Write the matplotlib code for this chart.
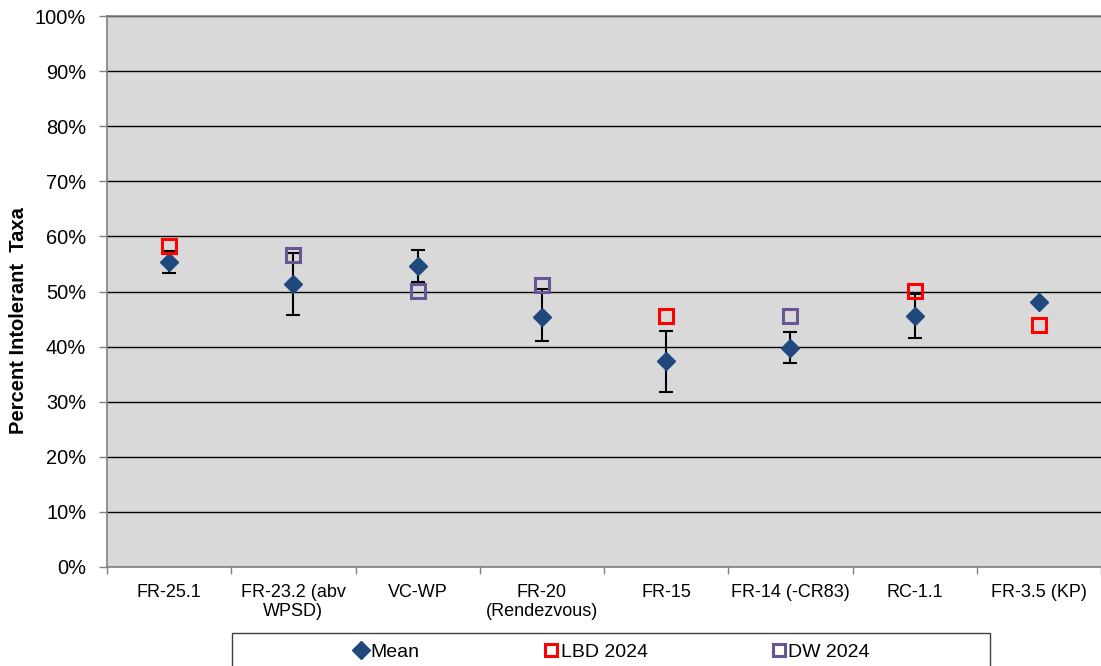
import numpy as np
import matplotlib
matplotlib.use("Agg")
import matplotlib.pyplot as plt
from matplotlib.lines import Line2D
from matplotlib.patches import Rectangle
from matplotlib.ticker import FixedLocator, PercentFormatter

plt.rcParams['font.family'] = ['Liberation Sans', 'DejaVu Sans']

sites = ["FR-25.1", "FR-23.2 (abv\nWPSD)", "VC-WP", "FR-20\n(Rendezvous)",
         "FR-15", "FR-14 (-CR83)", "RC-1.1", "FR-3.5 (KP)"]
mean = [55.3, 51.4, 54.6, 45.4, 37.3, 39.8, 45.6, 48.1]
range_low = [53.3, 45.8, 51.7, 41.0, 31.8, 37.0, 41.6, np.nan]
range_high = [57.4, 56.9, 57.6, 50.5, 42.8, 42.6, 49.5, np.nan]
lbd_2024 = [58.3, np.nan, np.nan, np.nan, 45.6, np.nan, 50.1, 43.9]
dw_2024 = [np.nan, 56.6, 50.1, 51.1, np.nan, 45.6, np.nan, np.nan]

MEAN_C = '#1F497D'
LBD_C = '#FF0000'
DW_C = '#6A5594'

fig = plt.figure(figsize=(11.01, 6.66), dpi=100)
ax = fig.add_axes([107 / 1101, 99 / 666, 994 / 1101, 551 / 666])
ax.set_facecolor('#D9D9D9')

x = np.arange(len(sites)) + 0.5
mean_a = np.array(mean)
lo = np.array(range_low)
hi = np.array(range_high)
has_err = ~np.isnan(lo)

ax.errorbar(x[has_err], mean_a[has_err],
            yerr=[mean_a[has_err] - lo[has_err], hi[has_err] - mean_a[has_err]],
            fmt='none', ecolor='black', elinewidth=1.5, capsize=4.7, capthick=1.5,
            zorder=3)
ax.plot(x, mean, linestyle='none', marker='D', markersize=9.5, color=MEAN_C,
        zorder=4)
ax.plot(x, lbd_2024, linestyle='none', marker='s', markersize=10,
        markerfacecolor='none', markeredgecolor=LBD_C, markeredgewidth=2.2,
        zorder=5)
ax.plot(x, dw_2024, linestyle='none', marker='s', markersize=10,
        markerfacecolor='none', markeredgecolor=DW_C, markeredgewidth=2.2,
        zorder=5)

ax.set_xlim(0, len(sites))
ax.set_ylim(0, 100)
ax.yaxis.set_major_locator(FixedLocator(np.arange(0, 101, 10)))
ax.yaxis.set_major_formatter(PercentFormatter(decimals=0))
ax.yaxis.grid(True, color='black', linewidth=1)
ax.set_axisbelow(True)

ax.set_xticks(np.arange(len(sites) + 1))
ax.set_xticklabels([])
ax.set_xticks(x, minor=True)
ax.set_xticklabels(sites, minor=True, fontsize=13, linespacing=1.15)
ax.tick_params(axis='x', which='minor', length=0, pad=12)
ax.tick_params(axis='x', which='major', length=5, color='#808080', width=1)
ax.tick_params(axis='y', length=6, color='#808080', width=1, labelsize=14.4,
               pad=9)

for side in ('left', 'bottom', 'top'):
    ax.spines[side].set_color('#808080')
    ax.spines[side].set_linewidth(1.2)
ax.spines['right'].set_visible(False)

fig.text(19 / 1101, 1 - 321 / 666, 'Percent Intolerant  Taxa', rotation=90,
         ha='center', va='center', fontsize=14.5, fontweight='bold')

# legend frame runs off the bottom edge of the figure
fig.add_artist(Rectangle((232 / 1101, -0.05), 758 / 1101, 33 / 666 + 0.05,
                         transform=fig.transFigure, facecolor='white',
                         edgecolor='#404040', linewidth=1))
handles = [
    Line2D([], [], linestyle='none', marker='D', markersize=9, color=MEAN_C),
    Line2D([], [], linestyle='none', marker='s', markersize=8.5,
           markerfacecolor='none', markeredgecolor=LBD_C, markeredgewidth=2.2),
    Line2D([], [], linestyle='none', marker='s', markersize=8.5,
           markerfacecolor='none', markeredgecolor=DW_C, markeredgewidth=2.2),
]
fig.legend(handles, ['Mean', 'LBD 2024', 'DW 2024'], ncol=3, frameon=False,
           loc='center', bbox_to_anchor=(612 / 1101, 1 - 652 / 666),
           fontsize=14, handlelength=0.7, handletextpad=0.15,
           columnspacing=6.4, borderpad=0, borderaxespad=0)

fig.savefig('out.png', dpi=100)
